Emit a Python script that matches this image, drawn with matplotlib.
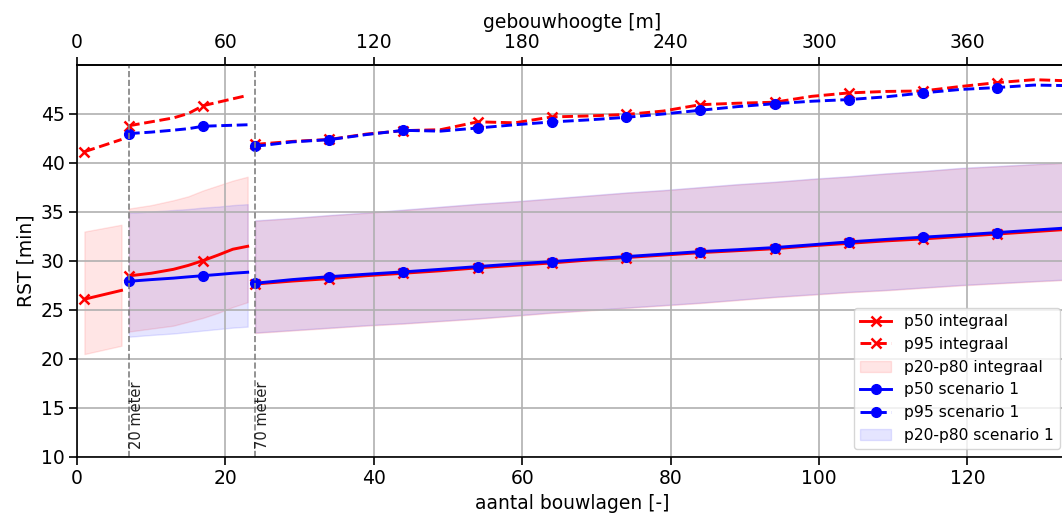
import matplotlib
matplotlib.use("Agg")
import matplotlib.pyplot as plt

# aantal bouwlagen per deel (drie losse stukken met sprong bij 20 m en 70 m)
x_seg1 = [1, 6]
x_seg2 = [7, 10, 13, 15, 17, 19, 21, 23]
x_seg3 = [24, 29, 34, 39, 44, 49, 54, 59, 64, 69, 74, 79, 84, 89, 94, 99,
          104, 109, 114, 119, 124, 129, 133]

# integraal
p50_int = [[26.1, 27.0],
           [28.48, 28.75, 29.15, 29.55, 30.04, 30.6, 31.2, 31.5],
           [27.65, 27.95, 28.2, 28.5, 28.75, 29.0, 29.3, 29.55, 29.8, 30.1, 30.35, 30.6,
            30.85, 31.05, 31.25, 31.55, 31.8, 32.05, 32.25, 32.5, 32.75, 33.0, 33.2]]
p95_int = [[41.15, 42.4],
           [43.8, 44.2, 44.6, 45.05, 45.85, 46.2, 46.55, 46.9],
           [41.9, 42.2, 42.4, 42.95, 43.3, 43.4, 44.2, 44.1, 44.7, 44.8, 44.95, 45.3,
            45.95, 46.1, 46.2, 46.8, 47.15, 47.3, 47.35, 47.8, 48.2, 48.5, 48.4]]
p20_int = [[20.5, 21.35],
           [22.8, 23.1, 23.4, 23.8, 24.2, 24.7, 25.3, 25.8],
           [22.65, 22.9, 23.15, 23.4, 23.6, 23.85, 24.1, 24.4, 24.7, 24.95, 25.2, 25.45,
            25.7, 26.0, 26.3, 26.55, 26.8, 27.0, 27.25, 27.5, 27.7, 27.9, 28.05]]
p80_int = [[33.0, 33.7],
           [35.35, 35.7, 36.2, 36.6, 37.2, 37.7, 38.2, 38.6],
           [34.1, 34.35, 34.65, 34.9, 35.2, 35.5, 35.8, 36.05, 36.35, 36.65, 36.95, 37.2,
            37.5, 37.8, 38.05, 38.35, 38.6, 38.9, 39.15, 39.45, 39.65, 39.85, 40.0]]

# scenario 1 (geen waarden onder 20 meter)
p50_sc = [[27.93, 28.1, 28.25, 28.38, 28.5, 28.62, 28.75, 28.85],
          [27.73, 28.1, 28.4, 28.65, 28.89, 29.15, 29.43, 29.7, 29.94, 30.2, 30.45, 30.7,
           30.96, 31.15, 31.37, 31.65, 31.95, 32.2, 32.43, 32.65, 32.9, 33.15, 33.35]]
p95_sc = [[43.0, 43.15, 43.35, 43.5, 43.75, 43.8, 43.85, 43.9],
          [41.7, 42.15, 42.38, 42.9, 43.33, 43.25, 43.57, 43.9, 44.19, 44.4, 44.66, 45.0,
           45.38, 45.75, 46.05, 46.3, 46.47, 46.75, 47.15, 47.5, 47.7, 47.95, 47.9]]
p20_sc = [[22.27, 22.45, 22.6, 22.75, 22.9, 23.05, 23.2, 23.3],
          [22.7, 22.95, 23.2, 23.45, 23.65, 23.9, 24.15, 24.45, 24.75, 25.0, 25.25, 25.5,
           25.75, 26.05, 26.35, 26.6, 26.85, 27.05, 27.3, 27.55, 27.75, 27.95, 28.1]]
p80_sc = [[34.9, 35.05, 35.2, 35.3, 35.45, 35.55, 35.7, 35.8],
          [34.15, 34.4, 34.7, 34.95, 35.25, 35.55, 35.85, 36.1, 36.4, 36.7, 37.0, 37.25,
           37.55, 37.85, 38.1, 38.4, 38.65, 38.95, 39.2, 39.5, 39.7, 39.9, 40.05]]

grens_lagen = [7, 24]
grens_tekst = ["20 meter", "70 meter"]
meter_per_laag = 3

plt.rcParams['font.size'] = 13.5
plt.rcParams['axes.linewidth'] = 1.2

fig = plt.figure(figsize=(10.62, 5.17), dpi=100)
ax = fig.add_axes([0.0725, 0.1161, 0.9328, 0.7582])


def marks(xs):  # marker elke 10 bouwlagen vanaf begin van het stuk
    return [i for i, v in enumerate(xs) if (v - xs[0]) % 10 == 0]


segs_int = [x_seg1, x_seg2, x_seg3]
segs_sc = [x_seg2, x_seg3]

for k, xs in enumerate(segs_int):
    ax.plot(xs, p50_int[k], color='red', ls='-', lw=2.1, marker='x', ms=7, mew=1.8,
            markevery=marks(xs), label='p50 integraal' if k == 0 else None)
for k, xs in enumerate(segs_int):
    ax.plot(xs, p95_int[k], color='red', ls='--', lw=2.1, marker='x', ms=7, mew=1.8,
            markevery=marks(xs), label='p95 integraal' if k == 0 else None)
for k, xs in enumerate(segs_int):
    ax.fill_between(xs, p20_int[k], p80_int[k], color='red', alpha=0.1,
                    label='p20-p80 integraal' if k == 0 else None)

for k, xs in enumerate(segs_sc):
    ax.plot(xs, p50_sc[k], color='blue', ls='-', lw=2.1, marker='o', ms=7,
            markevery=marks(xs), label='p50 scenario 1' if k == 0 else None)
for k, xs in enumerate(segs_sc):
    ax.plot(xs, p95_sc[k], color='blue', ls='--', lw=2.1, marker='o', ms=7,
            markevery=marks(xs), label='p95 scenario 1' if k == 0 else None)
for k, xs in enumerate(segs_sc):
    ax.fill_between(xs, p20_sc[k], p80_sc[k], color='blue', alpha=0.1,
                    label='p20-p80 scenario 1' if k == 0 else None)

for xv, txt in zip(grens_lagen, grens_tekst):
    ax.axvline(xv, color='gray', ls='--', lw=1.2)
    ax.text(xv, 10.8, txt, rotation=90, ha='left', va='bottom', fontsize=10.5, color='#222222')

ax.set_xlim(0, 133.5)
ax.set_ylim(10, 50)
ax.set_xticks([0, 20, 40, 60, 80, 100, 120])
ax.set_yticks([10, 15, 20, 25, 30, 35, 40, 45])
ax.grid(True, color='#b0b0b0', lw=1.2)
ax.tick_params(length=5.5, width=1.2)
ax.set_xlabel('aantal bouwlagen [-]')
ax.set_ylabel('RST [min]')

secax = ax.secondary_xaxis('top', functions=(lambda x: x * meter_per_laag, lambda x: x / meter_per_laag))
secax.set_xticks([0, 60, 120, 180, 240, 300, 360])
secax.tick_params(length=5.5, width=1.2)
secax.set_xlabel('gebouwhoogte [m]')

ax.legend(loc='lower right', fontsize=11.2)

fig.savefig('out.png', dpi=100)
